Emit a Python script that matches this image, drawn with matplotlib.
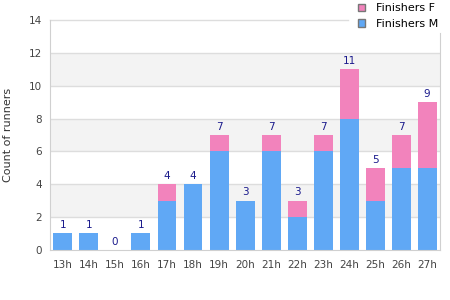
import numpy as np
import matplotlib.pyplot as plt

hours = ['13h', '14h', '15h', '16h', '17h', '18h', '19h', '20h',
         '21h', '22h', '23h', '24h', '25h', '26h', '27h']
finishers_m = [1, 1, 0, 1, 3, 4, 6, 3, 6, 2, 6, 8, 3, 5, 5]
finishers_f = [0, 0, 0, 0, 1, 0, 1, 0, 1, 1, 1, 3, 2, 2, 4]
totals = [m + f for m, f in zip(finishers_m, finishers_f)]

blue = '#60a8f5'
pink = '#f283bc'

fig = plt.figure(figsize=(4.5, 3), dpi=100)
ax = fig.add_axes([0.111, 0.167, 0.867, 0.766])

# alternating bands
for lo in range(0, 14, 2):
    if (lo // 2) % 2 == 1:
        ax.axhspan(lo, lo + 2, color='#f3f3f3', zorder=0, lw=0)
for v in range(2, 14, 2):
    ax.axhline(v, color='#dddddd', lw=1, zorder=1)
# top line stops where the legend sits
ax.axhline(14, xmax=0.764, color='#dddddd', lw=1, zorder=1, clip_on=False)

x = np.arange(len(hours))
ax.bar(x, finishers_m, width=0.73, color=blue, zorder=2, label='Finishers M')
ax.bar(x, finishers_f, width=0.73, bottom=finishers_m, color=pink, zorder=2,
       label='Finishers F')

for i, t in enumerate(totals):
    ax.text(i, t + 0.2, str(t), ha='center', va='bottom', fontsize=7.5,
            color='#1a1a8c', zorder=3)

ax.set_xlim(-0.5, len(hours) - 0.5)
ax.set_ylim(0, 14)
ax.set_yticks(range(0, 15, 2))
ax.set_xticks(x)
ax.set_xticklabels(hours)
ax.tick_params(length=0, labelsize=7.5, colors='#444444')
ax.tick_params(axis='y', pad=6)
ax.tick_params(axis='x', pad=7)
ax.set_ylabel('Count of runners', fontsize=8, color='#333333', labelpad=11)

ax.spines['top'].set_visible(False)
for s in ['left', 'bottom', 'right']:
    ax.spines[s].set_color('#d0d0d0')
ax.spines['right'].set_bounds(0, 13.2)

h, l = ax.get_legend_handles_labels()
leg = fig.legend(h[::-1], l[::-1], loc='upper left',
                 bbox_to_anchor=(355 / 450, 1.0), frameon=False,
                 fontsize=8, handlelength=0.63, handleheight=0.63,
                 labelspacing=0.5, handletextpad=1.0, borderpad=0.0,
                 borderaxespad=0.3)
for p in leg.get_patches():
    p.set_edgecolor('#777777')
    p.set_linewidth(1)

fig.savefig('out.png', dpi=100)
